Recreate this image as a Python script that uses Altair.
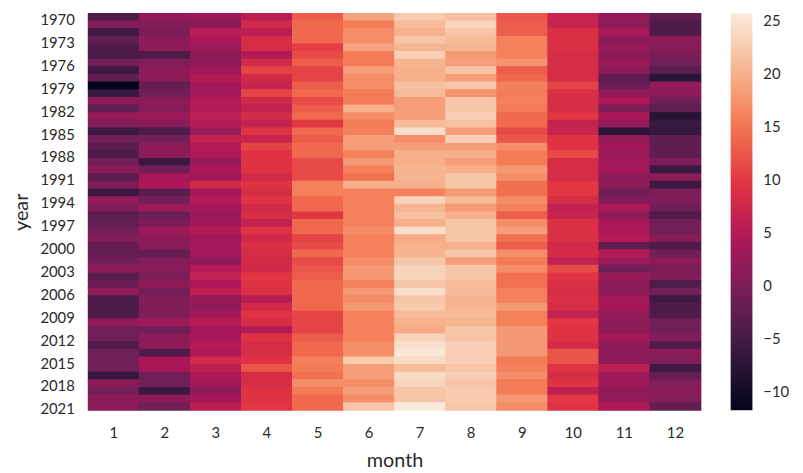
import altair as alt
import pandas as pd
import numpy as np

years = list(range(1970, 2022))
months = list(range(1, 13))

jan = [-4, 0.5, -5.5, -2.5, -4, -4.5, -1, -5.5, -2.5, -11.7, -6, 1.5, -2.5, 2.5, 0.5, -5.5, -1, -3, -4, -1, 1.5, -3, 0, -6, 2, 0.5, -3, -2, -1, 0.5, -2, -2, -1, 1.5, -3, -1.5, 2, -4, -4, -4, 2, -1, -1, -4, -1, -1, -1, -6.5, 1.5, -1, 1.5, 1.5]
feb = [2, 0.5, 0, 1.5, 1.5, -4, 0.5, 1.5, 1.5, -2, -1, 1.5, 1, 3, 1, -4, -1, 1.5, 1.5, -6, -1, 4, 4.5, -3, -1, 3, -1.5, 0, 3, 1.5, 1, -2, 0.5, 1, 0, 1.5, -1, 0.5, 0.5, 0.5, 3, -1, 1.5, 1.5, -4, 4, 4, -1, -1, -6, 1.5, -1]
mar = [2.5, 1.5, 5.5, 4.5, 3, 1.5, 1.5, 3, 5, 3.5, 3.5, 5, 5, 6, 5, 2.5, 6.5, 5, 4.5, 2.5, 4.5, 3, 8, 3.5, 5, 3.5, 2.5, 3.5, 5, 3.5, 3.5, 3.5, 1.5, 5, 6.5, 4.5, 6, 2.5, 1.5, 3.5, 5, 3.5, 4, 5, 4.5, 8, 6, 4.5, 3.5, 1.5, 3.5, 5.5]
apr = [5.5, 8, 5.5, 8.5, 8.5, 5, 8, 11, 8, 7, 11, 8, 6.5, 8.5, 6.5, 9.5, 7, 11, 9.5, 9.5, 9.5, 8, 9.5, 8.5, 9.5, 8, 8.5, 6.5, 9.5, 8, 9, 8.5, 8, 8, 10, 9.5, 9, 5.5, 8, 9.5, 8.5, 5, 9.5, 8.5, 8.5, 9.5, 12.5, 8.5, 8.5, 9.5, 9.5, 10]
may = [13, 14, 14, 14, 10.5, 11.5, 13, 11, 11, 13, 14, 11.5, 13, 14, 10, 14, 13, 14, 14, 11.5, 11.5, 11.5, 16, 16, 14, 14, 10, 14, 14, 11, 11.5, 14, 11.5, 12.5, 13, 14, 14, 14, 14, 11, 11, 11, 13, 14, 14, 16, 15.5, 14.5, 17, 15.5, 14, 14]
jun = [19, 15.5, 17, 17, 19, 15.5, 15.5, 18.5, 17, 17, 15.5, 15.5, 20, 17, 15.5, 16, 18.5, 18.5, 16, 18, 16, 14.5, 20, 16, 16, 16, 16, 16, 17, 16, 16, 16, 17, 18, 18, 16, 18, 17, 18, 16, 16, 16, 16, 17, 17, 22.5, 18.5, 18.5, 17, 18.5, 17, 22]
jul = [22.5, 21, 20, 22, 20.5, 23, 20.5, 20, 20, 21.5, 21, 18.5, 18.5, 18.5, 21, 24.5, 17, 18.5, 20, 20, 20.5, 20.5, 20, 16, 23.5, 20.5, 21.5, 20, 24.5, 19.5, 20, 20.5, 22, 23.5, 23.5, 22, 24.5, 22, 22.5, 21, 20, 19.5, 23.5, 24.5, 25.3, 24, 21, 24, 23.5, 22, 22, 25.7]
aug = [21.5, 23.5, 22, 21, 20.5, 18, 18.5, 22, 18.5, 22, 17.5, 22, 22, 23, 21.5, 18.5, 23, 18.5, 20, 18.5, 20, 22, 22, 18, 21, 18, 20, 22, 22, 22, 20, 22, 18.5, 22, 22, 21, 21, 20.5, 20.5, 21, 20.5, 22, 22, 23, 23, 23, 22, 23, 22, 22.5, 22.5, 22]
sep = [12.5, 13, 13, 16, 16, 16, 17.5, 13, 14, 16, 15.5, 16, 15.5, 14, 14, 11.5, 12.5, 17, 15.5, 15.5, 18, 17, 14.5, 14.5, 17, 16, 13, 17, 18.5, 14.5, 13, 17, 15.5, 17, 14.5, 14.5, 16, 16, 18, 16, 16, 18, 18, 18, 18, 15.5, 16, 17, 15.5, 15.5, 18, 17]
oct_ = [7, 7, 9, 9, 9, 8.5, 8.5, 8.5, 8.5, 11, 9, 8.5, 8.5, 10, 6.5, 7, 9.5, 9.5, 11.5, 8.5, 8.5, 8.5, 10, 10, 8.5, 6.5, 7, 9, 9, 9, 8, 8.5, 6.5, 11.5, 9.5, 9, 8.5, 9, 8.5, 6.5, 10, 9.5, 9.5, 8.5, 12.5, 12.5, 9.5, 8.5, 9.5, 6, 10, 9.5]
nov = [2, 1.5, 4, 1.5, 2.5, 1.5, 2.5, 1.5, -2.5, -1.5, 2, 4.5, 0, 4, 2, -7.5, 2, 3.5, 2.5, 3.5, 3.5, 1.5, 1.5, -1, 0.5, 4.5, 1.5, 4, 4.5, 5, -2.5, 5, 3, -1, 2.5, 1.5, 1.5, 3.5, 3.5, 2, 1.5, 1.5, 3.5, 1.5, 1.5, 1.5, 6, 3, 3, 2, 2, 4.5]
dec = [-2.5, -4, -4, 1.5, 1, 0, -1, -3, -7.5, 2, 1.5, -1, -2.5, -8, -6, -6.5, -2.5, -2.5, -2.5, 0, -6, 1.5, -5.5, 0, 0.5, -1, -4, -1, -1, 1, -4, -1, 1.5, 0, 0.5, -4, -1, -5.5, -4, -4, -1, -1, 0.5, -4, 1, 0.5, -5.5, -2, 0.5, 1, 0.5, -2]

cols = [jan, feb, mar, apr, may, jun, jul, aug, sep, oct_, nov, dec]
rows = []
for m, col in zip(months, cols):
    for y, v in zip(years, col):
        rows.append({"year": y, "month": m, "temp": v})
df = pd.DataFrame(rows)

rocket = ["#03051a", "#35193e", "#701f57", "#ad1759", "#e13342", "#f37651", "#f6b48f", "#faebdd"]
vmin = float(df["temp"].min())
vmax = float(df["temp"].max())
stops = list(np.linspace(vmin, vmax, len(rocket)))

FONT = "Lato"
W, H = 619, 401
TXT = "#2a2a2a"

chart = alt.Chart(df).mark_rect(width=W / 12 + 0.8, height=H / 52 + 0.8).encode(
    x=alt.X("month:O", sort=months,
            scale=alt.Scale(paddingInner=0, paddingOuter=0),
            axis=alt.Axis(labelAngle=0, ticks=False, domain=False, labelPadding=16,
                          titlePadding=10, labelFontSize=15, titleFontSize=20,
                          titleFontWeight="normal", labelColor=TXT, titleColor=TXT)),
    y=alt.Y("year:O", sort=years,
            scale=alt.Scale(paddingInner=0, paddingOuter=0),
            axis=alt.Axis(values=years[::3], ticks=False, domain=False, labelPadding=14,
                          labelOffset=3, titlePadding=9, labelFontSize=15, titleFontSize=20,
                          titleFontWeight="normal", labelColor=TXT, titleColor=TXT)),
    color=alt.Color("temp:Q",
                    scale=alt.Scale(domain=stops, range=rocket, interpolate="rgb"),
                    legend=alt.Legend(type="gradient", title=None, orient="right", direction="vertical",
                                      gradientLength=401, gradientThickness=22, offset=30,
                                      values=[-10, -5, 0, 5, 10, 15, 20, 25],
                                      labelFontSize=15, labelColor=TXT, gradientStrokeWidth=0,
                                      labelOffset=11)),
).properties(
    width=W, height=H,
    autosize=alt.AutoSizeParams(type="none"),
    padding={"top": 3, "left": 81, "right": 95, "bottom": 61},
).configure(font=FONT).configure_view(strokeWidth=0)

chart.save("out.html", embed_options={"renderer": "svg", "actions": False})
